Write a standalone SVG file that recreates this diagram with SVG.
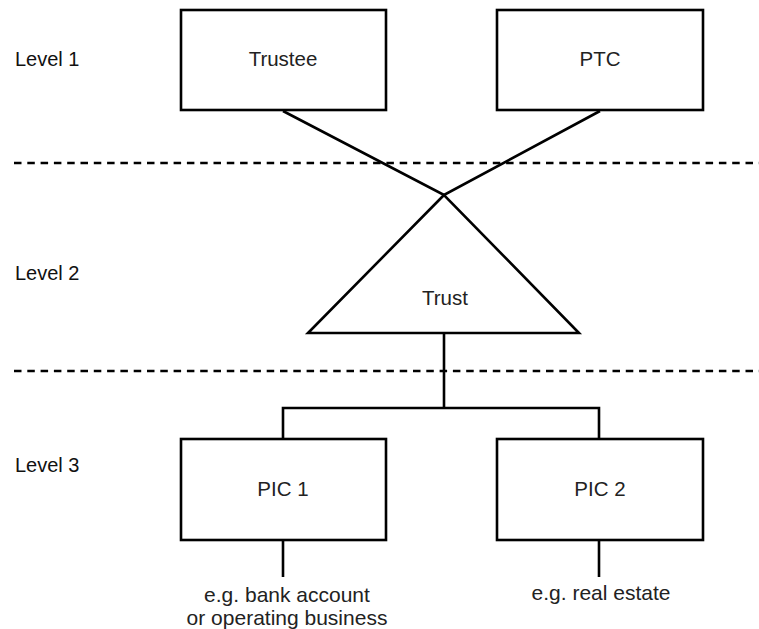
<svg xmlns="http://www.w3.org/2000/svg" width="759" height="629" viewBox="0 0 759 629">
<style>
.box{fill:#fff;stroke:#000;stroke-width:2.6}
.ln{fill:none;stroke:#000;stroke-width:2.6}
.dash{fill:none;stroke:#000;stroke-width:2.6;stroke-dasharray:7.5 5.8}
.lvl{font-family:"Liberation Sans",Arial,sans-serif;font-size:20px;fill:#111}
.lbl{font-family:"Liberation Sans",Arial,sans-serif;font-size:20.5px;fill:#222;text-anchor:middle}
.cap{font-family:"Liberation Sans",Arial,sans-serif;font-size:21px;fill:#222;text-anchor:middle}
</style>
<rect width="759" height="629" fill="#fff"/>
<g id="levels">
<text class="lvl" x="15" y="66">Level 1</text>
<text class="lvl" x="15" y="280">Level 2</text>
<text class="lvl" x="15" y="472">Level 3</text>
<line class="dash" x1="14" y1="163" x2="759" y2="163"/>
<line class="dash" x1="14" y1="371" x2="759" y2="371"/>
</g>
<g id="connectors">
<polyline class="ln" points="283,111 444,195 600,111"/>
<line class="ln" x1="444" y1="333" x2="444" y2="408"/>
<polyline class="ln" points="283,439 283,408 599,408 599,439"/>
<line class="ln" x1="283" y1="540" x2="283" y2="577"/>
<line class="ln" x1="599" y1="540" x2="599" y2="577"/>
</g>
<g id="trustee">
<rect class="box" x="181" y="10" width="205" height="100"/>
<text class="lbl" x="283" y="66">Trustee</text>
</g>
<g id="ptc">
<rect class="box" x="497" y="10" width="206" height="100"/>
<text class="lbl" x="600" y="66">PTC</text>
</g>
<g id="trust">
<polygon class="box" points="444,195 308,333 579,333"/>
<text class="lbl" x="445" y="305">Trust</text>
</g>
<g id="pic1">
<rect class="box" x="181" y="439" width="205" height="101"/>
<text class="lbl" x="283" y="496">PIC 1</text>
</g>
<g id="pic2">
<rect class="box" x="497" y="439" width="206" height="101"/>
<text class="lbl" x="600" y="496">PIC 2</text>
</g>
<g id="captions">
<text class="cap" x="287" y="602">e.g. bank account</text>
<text class="cap" x="287" y="625">or operating business</text>
<text class="cap" x="601" y="600">e.g. real estate</text>
</g>
</svg>
